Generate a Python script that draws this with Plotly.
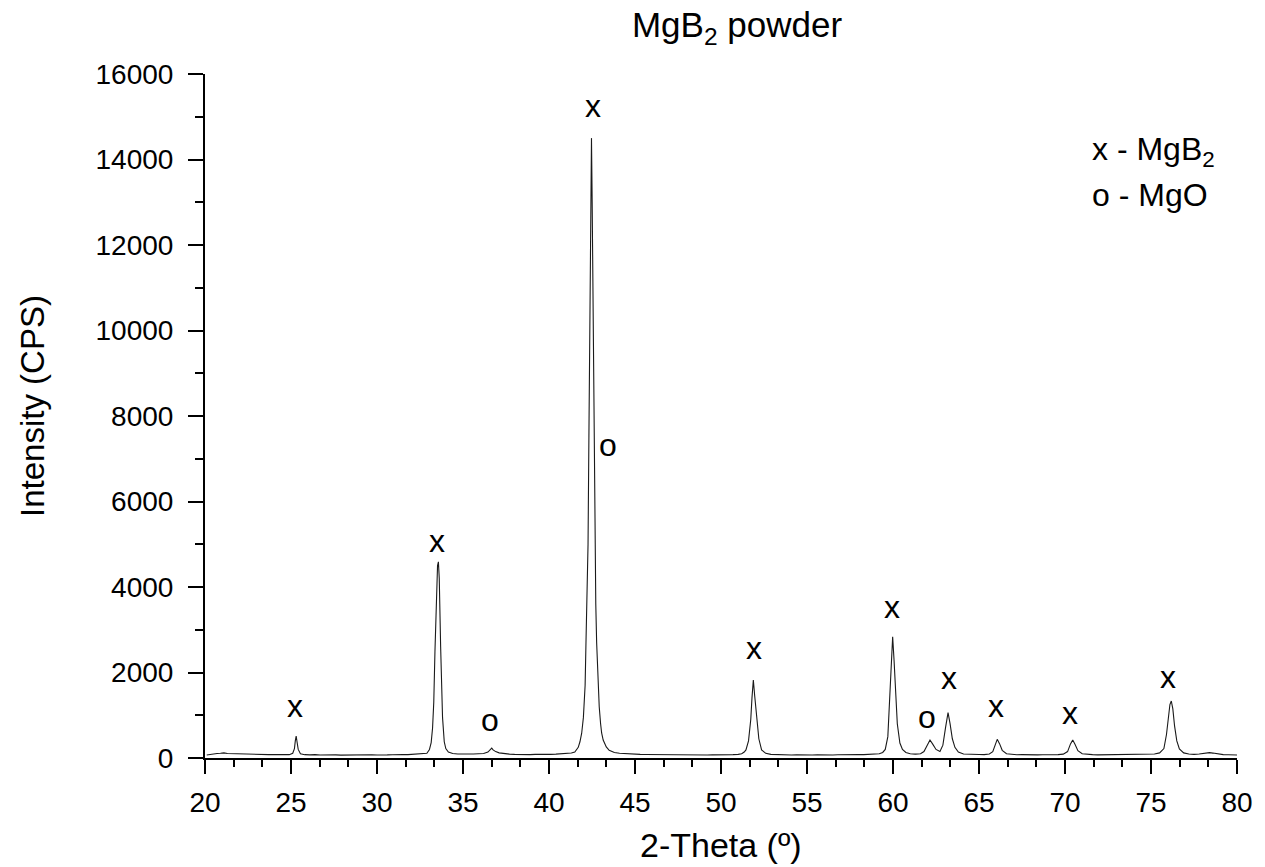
import plotly.graph_objects as go

# ---- data ----
two_theta = [
    20.1, 20.3, 20.5, 20.7, 20.9, 21.1, 21.3, 21.6, 21.9, 22.2, 22.5, 22.8, 23.1, 23.4, 23.7, 24.0, 24.3, 24.6, 24.9,
    25.1, 25.2, 25.25, 25.3, 25.35, 25.42, 25.55, 25.8,
    26.1, 26.4, 26.7, 27.0, 27.3, 27.6, 27.9, 28.2, 28.5, 28.8, 29.1, 29.4, 29.7, 30.0, 30.3, 30.6, 30.9, 31.2, 31.5, 31.8, 32.1, 32.4, 32.7,
    32.9, 33.05, 33.15, 33.23, 33.3, 33.37, 33.45, 33.52, 33.57, 33.62, 33.7, 33.76, 33.81, 33.91, 34.0, 34.15, 34.4,
    34.7, 35.0, 35.3, 35.6, 35.9, 36.2, 36.45, 36.6, 36.67, 36.75, 36.9, 37.1, 37.4,
    37.7, 38.0, 38.3, 38.6, 38.9, 39.2, 39.5, 39.8, 40.1, 40.4, 40.7, 41.0, 41.3,
    41.5, 41.7, 41.8, 41.9, 42.0, 42.05, 42.1, 42.15, 42.2, 42.27, 42.32, 42.37, 42.42, 42.47, 42.51, 42.56, 42.61, 42.67,
    42.72, 42.77, 42.85, 42.92, 43.0, 43.06, 43.15, 43.33, 43.5, 43.8, 44.1, 44.4, 44.7,
    45.0, 45.3, 45.6, 45.9, 46.2, 46.5, 46.8, 47.1, 47.4, 47.7, 48.0, 48.3, 48.6, 48.9, 49.2, 49.5, 49.8, 50.1, 50.4, 50.7, 51.0,
    51.2, 51.35, 51.45, 51.6, 51.73, 51.8, 51.88, 51.96, 52.08, 52.2, 52.36, 52.6, 52.9,
    53.2, 53.5, 53.8, 54.1, 54.4, 54.7, 55.0, 55.3, 55.6, 55.9, 56.2, 56.5, 56.8, 57.1, 57.4, 57.7, 58.0, 58.3, 58.6, 58.9, 59.2,
    59.4, 59.55, 59.7, 59.8, 59.88, 59.98, 60.06, 60.15, 60.25, 60.4, 60.55, 60.75, 61.0, 61.3,
    61.6, 61.8, 62.0, 62.15, 62.3, 62.5, 62.73, 62.9, 63.05, 63.2, 63.32, 63.45, 63.6, 63.8, 64.1,
    64.4, 64.7, 65.0, 65.3, 65.6, 65.8, 65.95, 66.06, 66.2, 66.35, 66.6, 66.9,
    67.2, 67.5, 67.8, 68.1, 68.4, 68.7, 69.0, 69.3, 69.6, 69.9,
    70.15, 70.32, 70.45, 70.58, 70.75, 71.0, 71.3,
    71.6, 71.9, 72.2, 72.5, 72.8, 73.1, 73.4, 73.7, 74.0, 74.3, 74.6, 74.9, 75.2,
    75.5, 75.75, 75.9, 76.0, 76.1, 76.18, 76.27, 76.37, 76.5, 76.65, 76.9, 77.2,
    77.5, 77.8, 78.1, 78.4, 78.6, 78.9, 79.2, 79.5, 79.8, 80.0,
]
intensity = [
    70, 85, 95, 105, 110, 120, 105, 100, 95, 90, 85, 90, 80, 85, 78, 82, 75, 80, 78,
    110, 220, 400, 515, 380, 200, 100, 78,
    72, 80, 70, 76, 70, 74, 68, 72, 70, 75, 68, 72, 75, 70, 78, 72, 76, 70, 80, 78, 85, 82, 95,
    110, 200, 360, 700, 1300, 2500, 3800, 4500, 4590, 4200, 2600, 1500, 950, 380, 220, 140, 105,
    95, 90, 92, 95, 100, 105, 140, 200, 230, 190, 150, 120, 100,
    90, 85, 80, 82, 78, 85, 80, 88, 85, 90, 95, 105, 115,
    140, 250, 380, 580, 950, 1250, 1700, 2700, 3600, 5000, 7500, 10500, 13500, 14500, 13000, 10500, 8000, 5300,
    3600, 2700, 1700, 1200, 800, 585, 420, 260, 180, 130, 110, 100, 95,
    90, 85, 82, 80, 78, 80, 74, 78, 72, 76, 70, 74, 72, 75, 70, 74, 72, 76, 74, 80, 85,
    100, 140, 190, 400, 900, 1400, 1825, 1450, 900, 450, 190, 110, 85,
    78, 72, 75, 70, 73, 68, 72, 70, 74, 68, 72, 70, 75, 72, 76, 74, 78, 80, 85, 90, 100,
    130, 200, 500, 1300, 2200, 2838, 2300, 1500, 800, 350, 200, 130, 100, 90,
    100, 150, 300, 420, 330, 200, 150, 300, 700, 1060, 800, 450, 250, 140, 95,
    85, 78, 82, 80, 95, 150, 330, 437, 330, 180, 100, 82,
    76, 80, 74, 78, 72, 76, 74, 78, 80, 90,
    150, 330, 420, 320, 170, 100, 85,
    78, 74, 76, 70, 74, 72, 76, 72, 78, 75, 82, 85, 95,
    120, 220, 550, 900, 1250, 1333, 1150, 750, 400, 210, 120, 95,
    85, 95, 110, 125, 115, 90, 80, 75, 72, 70,
]
assert len(two_theta) == len(intensity)

# phase marks: (2-theta, label height, symbol)
mark_theta = [25.23, 33.49, 36.57, 42.56, 43.43, 51.92, 59.94, 61.98, 63.26, 65.99, 70.29, 75.99]
mark_y = [1216, 5076, 889, 15250, 7320, 2573, 3532, 959, 1871, 1216, 1053, 1895]
mark_text = ["x", "x", "o", "x", "o", "x", "x", "o", "x", "x", "x", "x"]

legend_lines = ["x - MgB<sub>2</sub>", "o - MgO"]

x_ticks = [20, 25, 30, 35, 40, 45, 50, 55, 60, 65, 70, 75, 80]
y_ticks = [0, 2000, 4000, 6000, 8000, 10000, 12000, 14000, 16000]

FONT = "Liberation Sans, Arial, sans-serif"

fig = go.Figure()
fig.add_trace(go.Scatter(
    x=two_theta, y=intensity, mode="lines",
    line=dict(color="#1a1a1a", width=1.1),
    showlegend=False, hoverinfo="skip",
))

annotations = []
for tx, ty, t in zip(mark_theta, mark_y, mark_text):
    annotations.append(dict(x=tx, y=ty, xref="x", yref="y", text=t, showarrow=False,
                            font=dict(size=32, color="black", family=FONT),
                            xanchor="center", yanchor="middle"))

for txt, yy in zip(legend_lines, [0.886, 0.823]):
    annotations.append(dict(x=0.8576, y=yy, xref="paper", yref="paper", text=txt, showarrow=False,
                            font=dict(size=32, color="black", family=FONT),
                            xanchor="left", yanchor="middle"))

# axis titles
annotations.append(dict(x=0.5, y=(758 - 845) / 684, xref="paper", yref="paper",
                        text="2-Theta (º)", showarrow=False,
                        font=dict(size=34, color="black", family=FONT),
                        xanchor="center", yanchor="middle"))
annotations.append(dict(x=(32 - 205) / 1032, y=(758 - 406) / 684, xref="paper", yref="paper",
                        text="Intensity (CPS)", showarrow=False, textangle=-90,
                        font=dict(size=33, color="black", family=FONT),
                        xanchor="center", yanchor="middle"))

fig.update_layout(
    width=1265, height=867,
    margin=dict(l=205, r=28, t=74, b=109),
    paper_bgcolor="white", plot_bgcolor="white",
    font=dict(family=FONT, color="black", size=27),
    title=dict(text="MgB<sub>2</sub> powder", x=737 / 1265, xanchor="center",
               y=1 - 25 / 867, yanchor="middle", xref="container", yref="container",
               font=dict(size=35, color="black", family=FONT)),
    annotations=annotations,
    showlegend=False,
)

fig.update_xaxes(
    range=[20, 80], tickmode="array", tickvals=x_ticks, ticktext=[str(v) for v in x_ticks],
    showgrid=False, zeroline=False, showline=True, linecolor="black", linewidth=2,
    ticks="outside", ticklen=14, tickwidth=2, tickcolor="black",
    tickfont=dict(size=28, family=FONT, color="black"), ticklabelstandoff=4,
    minor=dict(ticks="outside", ticklen=7, tickwidth=2, tickcolor="black",
               tick0=20, dtick=5 / 3, showgrid=False),
)
fig.update_yaxes(
    range=[0, 16000], tickmode="array", tickvals=y_ticks, ticktext=[str(v) for v in y_ticks],
    showgrid=False, zeroline=False, showline=True, linecolor="black", linewidth=2,
    ticks="outside", ticklen=15, tickwidth=2, tickcolor="black",
    tickfont=dict(size=28, family=FONT, color="black"), ticklabelstandoff=9,
    minor=dict(ticks="outside", ticklen=8, tickwidth=2, tickcolor="black",
               tick0=0, dtick=1000, showgrid=False),
)

fig.write_html("out.html", config={"displayModeBar": False},
               post_script="document.body.style.margin='0';")
